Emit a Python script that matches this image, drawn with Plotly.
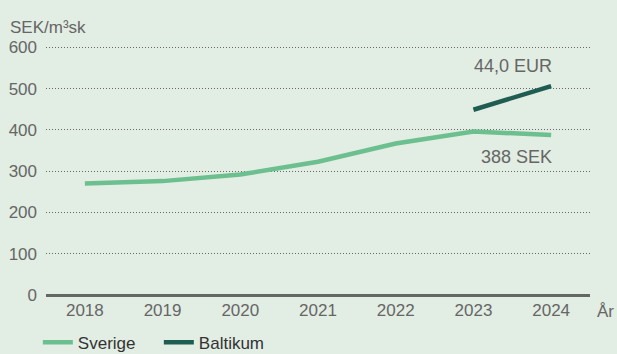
import plotly.graph_objects as go

years = ["2018", "2019", "2020", "2021", "2022", "2023", "2024"]
sverige = [270, 276, 292, 323, 367, 396, 388]
baltikum_years = ["2023", "2024"]
baltikum = [449, 506]
y_ticks = [0, 100, 200, 300, 400, 500, 600]

bg = "#e2ede3"
grey = "#666666"
font = "Liberation Sans, Arial, sans-serif"

fig = go.Figure()
fig.add_trace(go.Scatter(
    x=years, y=sverige, name="Sverige", mode="lines",
    line=dict(color="#6cbf8e", width=4.5)
))
fig.add_trace(go.Scatter(
    x=baltikum_years, y=baltikum, name="Baltikum", mode="lines",
    line=dict(color="#1f5d53", width=4.5)
))

# value labels at the last year
fig.add_annotation(x=6, y=baltikum[-1], text="44,0 EUR", showarrow=False,
                   xanchor="right", yanchor="bottom", yshift=8, xshift=3,
                   font=dict(size=18, color=grey))
fig.add_annotation(x=6, y=sverige[-1], text="388 SEK", showarrow=False,
                   xanchor="right", yanchor="top", yshift=-10, xshift=3,
                   font=dict(size=18, color=grey))
fig.add_annotation(xref="paper", yref="paper", x=-0.07, y=1.0, text="SEK/m³sk",
                   showarrow=False, xanchor="left", yanchor="bottom", yshift=1,
                   font=dict(size=17, color=grey))
fig.add_annotation(xref="paper", yref="paper", x=1.0, y=0, text="År",
                   showarrow=False, xanchor="left", yanchor="top", yshift=-5, xshift=5,
                   font=dict(size=17, color=grey))

fig.update_layout(
    width=617, height=354,
    paper_bgcolor=bg, plot_bgcolor=bg,
    margin=dict(l=46, r=27, t=40, b=59, autoexpand=False),
    font=dict(family=font, size=17, color=grey),
    showlegend=True,
    legend=dict(orientation="h", x=-0.015, y=-0.116, xanchor="left", yanchor="top",
                font=dict(size=17, color="#333333"), itemwidth=30, entrywidth=76,
                bgcolor="rgba(0,0,0,0)"),
)
fig.update_xaxes(
    type="category", range=[-0.5, 6.5], showgrid=False,
    showline=False, zeroline=False, ticks="", ticklabelstandoff=3,
    tickfont=dict(size=17, color=grey)
)
fig.update_yaxes(
    range=[0, 618], tickvals=y_ticks, showgrid=True,
    gridcolor="#666666", griddash="1px,2px", gridwidth=1,
    zeroline=True, zerolinecolor=grey, zerolinewidth=2.5,
    showline=False, ticks="", ticklabelstandoff=8,
    tickfont=dict(size=17, color=grey)
)

fig.write_html("out.html", config={"displayModeBar": False},
               post_script="document.body.style.margin='0';")
